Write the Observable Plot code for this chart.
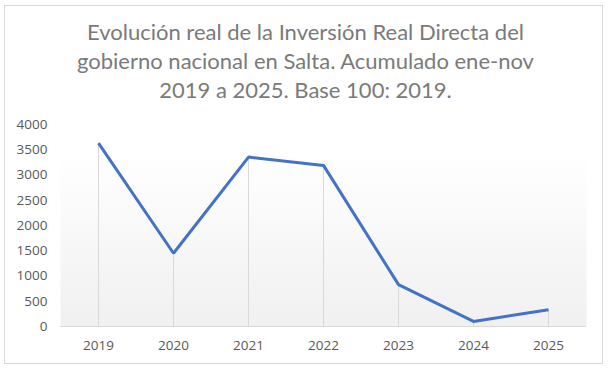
<!DOCTYPE html>
<html>
<head>
<meta charset="utf-8">
<script src="https://cdn.jsdelivr.net/npm/d3@7"></script>
<script src="https://cdn.jsdelivr.net/npm/@observablehq/plot@0.6"></script>
<style>
  html, body { margin: 0; padding: 0; background: #fff; }
  #wrap { position: relative; width: 611px; height: 373px; overflow: hidden; }
  #border { position: absolute; left: 4px; top: 5px; width: 599px; height: 359px; border: 1px solid #d9d9d9; box-sizing: border-box; }
  #title { position: absolute; left: 0; top: 17px; width: 611px; text-align: center; font-family: Lato, sans-serif; font-size: 22px; line-height: 29px; color: #7a7a7a; }
  #chart { position: absolute; left: 0; top: 110px; }
</style>
</head>
<body>
<div id="wrap">
  <div id="border"></div>
  <div id="title">Evolución real de la Inversión Real Directa del<br>gobierno nacional en Salta. Acumulado ene-nov<br>2019 a 2025. Base 100: 2019.</div>
  <div id="chart"></div>
</div>
<script>
const years = ["2019", "2020", "2021", "2022", "2023", "2024", "2025"];
const values = [3630, 1450, 3355, 3190, 830, 100, 330];
const yTicks = [0, 500, 1000, 1500, 2000, 2500, 3000, 3500, 4000];

const data = years.map((y, i) => ({year: y, value: values[i]}));

const chart = Plot.plot({
  width: 611,
  height: 263,
  marginLeft: 60,
  marginRight: 25,
  marginTop: 14,
  marginBottom: 47,
  style: {fontFamily: "'Open Sans', sans-serif", fontSize: "13.5px", color: "#595959", background: "transparent"},
  x: {type: "point", domain: years, padding: 0.5, label: null, tickSize: 0, tickPadding: 14},
  y: {domain: [0, 4000], ticks: yTicks, label: null, tickSize: 0, tickPadding: 13, tickFormat: d => String(d)},
  marks: [
    Plot.frame({fill: "url(#bgGrad)", stroke: null}),
    Plot.ruleX(data, {x: "year", y1: 0, y2: "value", stroke: "#d9d9d9", strokeWidth: 1}),
    Plot.ruleY([0], {stroke: "#d9d9d9", strokeWidth: 1}),
    Plot.line(data, {x: "year", y: "value", stroke: "#4472C4", strokeWidth: 3, strokeLinejoin: "miter", strokeLinecap: "butt"})
  ]
});

const ns = "http://www.w3.org/2000/svg";
const defs = document.createElementNS(ns, "defs");
defs.innerHTML = '<linearGradient id="bgGrad" x1="0" y1="0" x2="0" y2="1"><stop offset="0" stop-color="#ffffff"/><stop offset="0.15" stop-color="#ffffff"/><stop offset="1" stop-color="#f0f0f0"/></linearGradient>';
chart.insertBefore(defs, chart.firstChild);
document.getElementById("chart").appendChild(chart);
</script>
</body>
</html>
